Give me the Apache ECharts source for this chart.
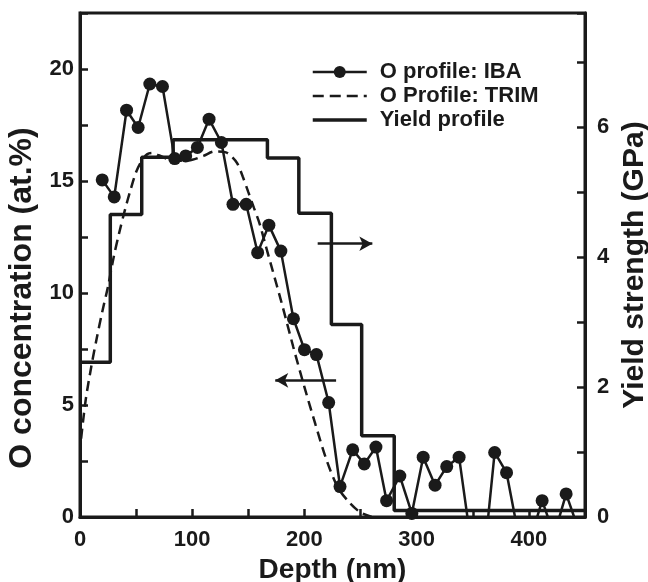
<!DOCTYPE html>
<html>
<head>
<meta charset="utf-8">
<script src="https://cdn.jsdelivr.net/npm/echarts@6/dist/echarts.min.js"></script>
<style>
  html, body { margin: 0; padding: 0; background: #fff; }
  #chart { width: 648px; height: 582px; }
</style>
</head>
<body>
<div id="chart"></div>
<script>
// Oxygen profile measured by ion beam analysis (depth nm, at.%)
const ibaDepth = [19.8, 30.5, 41.5, 51.8, 62.2, 73.5, 84.4, 94.2, 104.6, 115, 126, 136.3, 148.1, 158.3, 168.3, 179, 190.2, 200, 210.7, 221.6, 231.7, 243, 253.3, 263.7, 273.2, 285, 295.7, 305.8, 316.4, 326.8, 337.8, 348.3, 358.9, 369.5, 380.1, 390.7, 401.3, 411.8, 422.5, 433.2, 443.8];
const ibaConc = [15.05, 14.29, 18.16, 17.39, 19.33, 19.22, 16.0, 16.12, 16.5, 17.76, 16.72, 13.96, 13.96, 11.8, 13.03, 11.87, 8.85, 7.47, 7.25, 5.11, 1.36, 3.0, 2.37, 3.12, 0.73, 1.83, 0.16, 2.67, 1.42, 2.25, 2.67, -1.1, -2.4, 2.88, 1.98, -0.8, -1.0, 0.73, -0.8, 1.03, -0.5];

// Simulated (TRIM) oxygen profile
const trimDepth = [1, 5, 10, 15, 20, 25, 30, 35, 40, 45, 50, 55, 60, 65, 70, 80, 90, 100, 110, 120, 130, 135, 140, 145, 150, 155, 160, 165, 170, 180, 190, 200, 210, 220, 230, 240, 250, 260];
const trimConc = [3.5, 5.2, 6.7, 8.0, 9.2, 10.3, 11.6, 12.7, 13.7, 14.6, 15.4, 15.9, 16.2, 16.25, 16.15, 15.95, 15.9, 15.95, 16.12, 16.32, 16.28, 16.1, 15.8, 15.2, 14.5, 13.8, 13.1, 12.2, 11.3, 9.5, 7.6, 5.8, 4.1, 2.5, 1.3, 0.65, 0.2, 0];

// Yield strength profile (GPa), each level starts at the listed depth
const yieldDepth = [0, 27, 55, 83, 167, 195, 224, 251, 280, 450];
const yieldGPa = [2.38, 4.65, 5.53, 5.8, 5.52, 4.67, 2.96, 1.25, 0.1, 0.1];

// Axis ranges
const depthMax = 450;
const concMax = 22.5;
const yieldMax = 7.75;

const seriesNames = ['O profile: IBA', 'O Profile: TRIM', 'Yield profile'];

const ink = '#1a1a1a';
const font = 'Liberation Sans, Arial, sans-serif';

const zip = (xs, ys) => xs.map((x, i) => [x, ys[i]]);

const chart = echarts.init(document.getElementById('chart'), null, { renderer: 'canvas' });

const tickLabel = { fontFamily: font, fontWeight: 'bold', fontSize: 22, color: ink };
const axisName = size => ({ fontFamily: font, fontWeight: 'bold', fontSize: size, color: ink });
const hiddenMarker = { color: 'rgba(0,0,0,0)', borderColor: 'rgba(0,0,0,0)', borderWidth: 0 };

chart.setOption({
  animation: false,
  backgroundColor: '#fff',
  grid: {
    left: 80, right: 63, top: 13, bottom: 65,
    outerBoundsMode: 'none', containLabel: false,
    show: true, borderColor: ink, borderWidth: 3, backgroundColor: 'transparent'
  },
  legend: {
    orient: 'vertical',
    left: 311, top: 60,
    padding: 0,
    itemWidth: 54, itemHeight: 15, itemGap: 0,
    data: [
      { name: seriesNames[0], lineStyle: { width: 2.5 } },
      { name: seriesNames[1], itemStyle: hiddenMarker, lineStyle: { width: 2.5, type: [11, 6] } },
      { name: seriesNames[2], itemStyle: hiddenMarker, lineStyle: { width: 3.5 } }
    ],
    textStyle: { fontFamily: font, fontWeight: 'bold', fontSize: 22, color: ink, lineHeight: 24, padding: [0, 0, 0, 8] }
  },
  xAxis: {
    type: 'value', min: 0, max: depthMax, interval: 50,
    name: 'Depth (nm)', nameLocation: 'middle', nameGap: 34, nameTextStyle: axisName(28),
    axisLine: { lineStyle: { color: ink, width: 3 } },
    axisTick: { inside: true, length: 8, lineStyle: { color: ink, width: 2.5 } },
    axisLabel: Object.assign({ margin: 12, formatter: v => (v % 100 === 0 ? String(v) : '') }, tickLabel),
    splitLine: { show: false }
  },
  yAxis: [
    {
      type: 'value', min: 0, max: concMax, interval: 2.5,
      name: 'O concentration (at.%)', nameLocation: 'middle', nameGap: 42, nameRotate: 90,
      nameTextStyle: Object.assign({ padding: [0, 66, 0, 0] }, axisName(32)),
      axisLine: { show: true, lineStyle: { color: ink, width: 3 } },
      axisTick: { inside: true, length: 8, lineStyle: { color: ink, width: 2.5 } },
      axisLabel: Object.assign({ margin: 6, formatter: v => (v % 5 === 0 && v < 22 ? String(v) : '') }, tickLabel),
      splitLine: { show: false }
    },
    {
      type: 'value', min: 0, max: yieldMax, interval: 1, position: 'right',
      name: 'Yield strength (GPa)', nameLocation: 'middle', nameGap: 27, nameRotate: 90, nameTextStyle: axisName(30),
      axisLine: { show: true, lineStyle: { color: ink, width: 3 } },
      axisTick: { inside: true, length: 8, lineStyle: { color: ink, width: 2.5 } },
      axisLabel: Object.assign({ margin: 12, formatter: v => (Number.isInteger(v) && v % 2 === 0 ? String(v) : '') }, tickLabel),
      splitLine: { show: false }
    }
  ],
  series: [
    {
      name: seriesNames[0], type: 'line', yAxisIndex: 0,
      data: zip(ibaDepth, ibaConc),
      symbol: 'circle', symbolSize: 13, showSymbol: true,
      itemStyle: { color: ink },
      lineStyle: { color: ink, width: 2.5 },
      clip: true, z: 4,
      markLine: {
        silent: true,
        symbolSize: [11, 13],
        lineStyle: { color: ink, width: 2.5, type: 'solid' },
        label: { show: false },
        data: [
          // arrow towards the right-hand axis (yield profile)
          [{ coord: [211.8, 12.2], symbol: 'none' }, { coord: [260.5, 12.2], symbol: 'arrow' }],
          // arrow towards the left-hand axis (oxygen profile)
          [{ coord: [174, 6.1], symbol: 'arrow' }, { coord: [228.2, 6.1], symbol: 'none' }]
        ]
      }
    },
    {
      name: seriesNames[1], type: 'line', yAxisIndex: 0,
      data: zip(trimDepth, trimConc),
      symbol: 'none', smooth: 0.3,
      itemStyle: { color: ink },
      lineStyle: { color: ink, width: 2.5, type: [10, 6] },
      clip: true, z: 3
    },
    {
      name: seriesNames[2], type: 'line', yAxisIndex: 1,
      data: zip(yieldDepth, yieldGPa),
      step: 'end', symbol: 'none',
      itemStyle: { color: ink },
      lineStyle: { color: ink, width: 3.5 },
      clip: true, z: 2
    }
  ]
});
</script>
</body>
</html>
